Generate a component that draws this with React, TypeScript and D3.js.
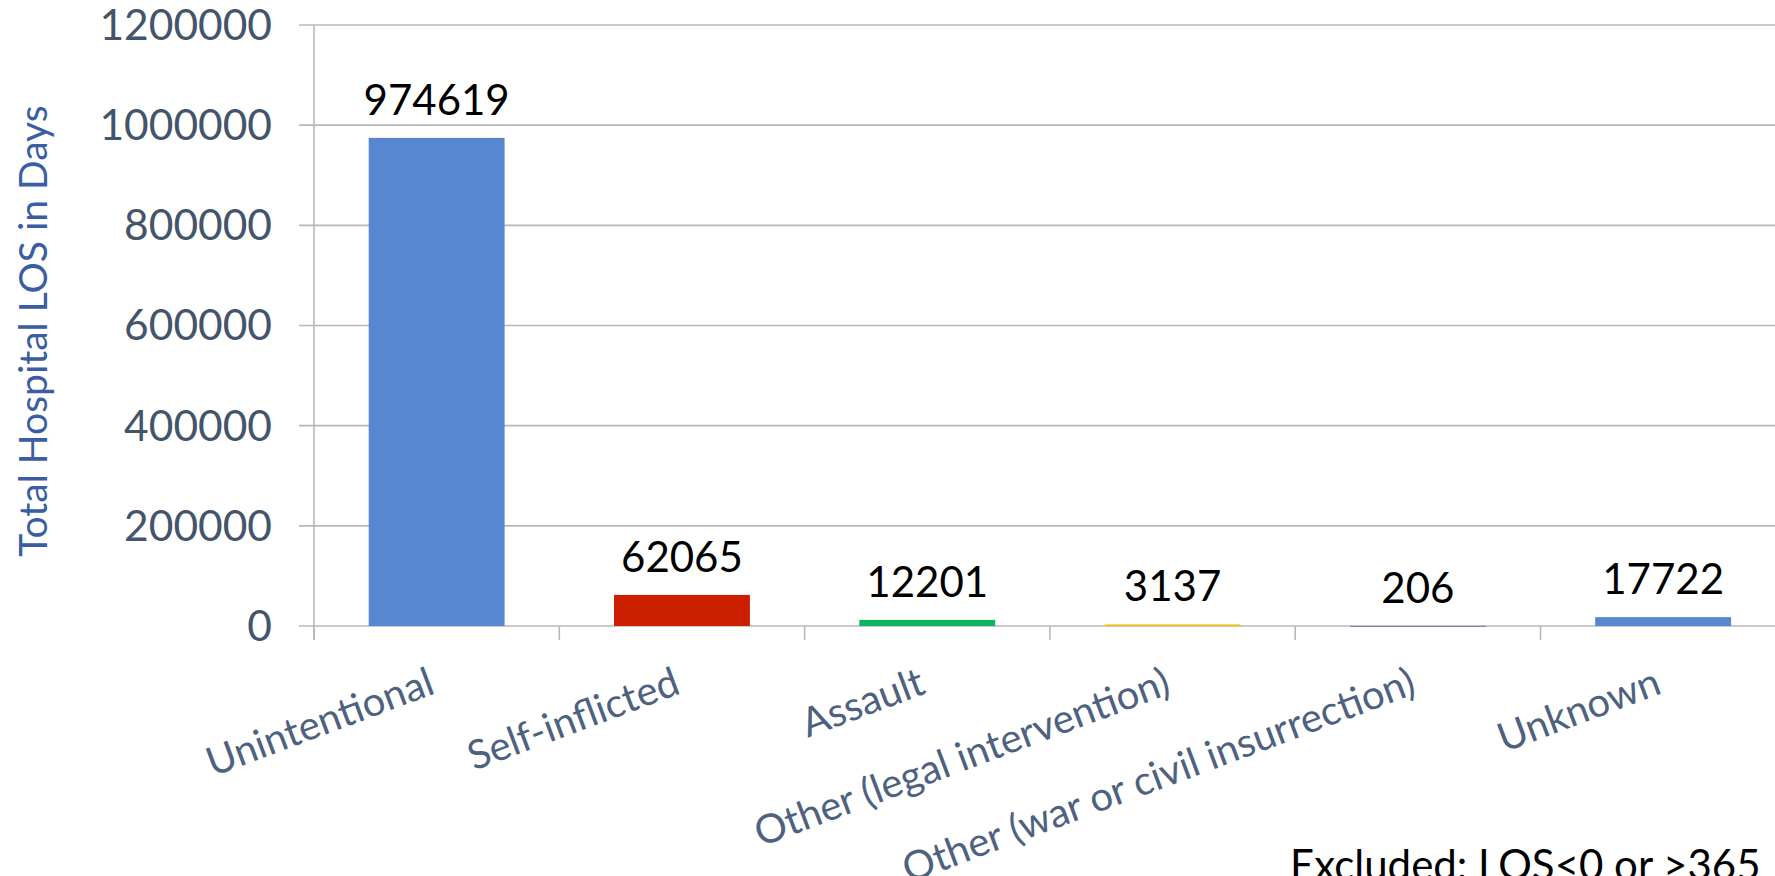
import React, { useEffect } from "react";
import * as d3 from "d3";

const categories = [
  "Unintentional",
  "Self-inflicted",
  "Assault",
  "Other (legal intervention)",
  "Other (war or civil insurrection)",
  "Unknown",
];
const values = [974619, 62065, 12201, 3137, 206, 17722];
const barColors = ["#5787D0", "#CC1F00", "#0FB55E", "#F2C10F", "#8E6FB0", "#5787D0"];
const yTicks = [0, 200000, 400000, 600000, 800000, 1000000, 1200000];
const yTitle = "Total Hospital LOS in Days";
const note = "Excluded: LOS<0 or >365";

const W = 1775;
const H = 876;
const FONT = "Lato, 'Open Sans', sans-serif";

export default function App() {
  useEffect(() => {
    document.body.style.margin = "0";
    document.body.style.overflow = "hidden";
  }, []);

  const x0 = 314;
  const step = 245.3;
  const x = d3
    .scaleBand<string>()
    .domain(categories)
    .range([x0, x0 + step * categories.length])
    .paddingInner(0)
    .paddingOuter(0);
  const y = d3.scaleLinear().domain([0, 1200000]).range([626, 25]);
  const bw = x.bandwidth();
  const barW = bw * 0.554;
  const barOff = (bw - barW) / 2;

  const boundaries = d3.range(categories.length + 1).map((i) => x0 + i * step);

  return (
    <svg width={W} height={H} style={{ display: "block", background: "#fff" }}>
      {/* gridlines */}
      {yTicks.map((t) => (
        <line
          key={"g" + t}
          x1={299}
          x2={W}
          y1={y(t)}
          y2={y(t)}
          stroke="#B8B8B8"
          strokeWidth={1.6}
        />
      ))}
      {/* y axis line */}
      <line x1={x0} x2={x0} y1={y(1200000)} y2={y(0) + 14} stroke="#B8B8B8" strokeWidth={1.6} />
      {/* category ticks */}
      {boundaries.map((b, i) => (
        <line key={"t" + i} x1={b} x2={b} y1={y(0)} y2={y(0) + 14} stroke="#B8B8B8" strokeWidth={1.6} />
      ))}
      {/* bars */}
      {categories.map((c, i) => (
        <rect
          key={"b" + c}
          x={(x(c) as number) + barOff}
          y={y(values[i])}
          width={barW}
          height={Math.max(y(0) - y(values[i]), 1)}
          fill={barColors[i]}
        />
      ))}
      {/* value labels */}
      {categories.map((c, i) => (
        <text
          key={"v" + c}
          x={(x(c) as number) + bw / 2}
          y={y(values[i]) - 23}
          textAnchor="middle"
          fontFamily={FONT}
          fontSize={42}
          fill="#000"
        >
          {values[i]}
        </text>
      ))}
      {/* y tick labels */}
      {yTicks.map((t) => (
        <text
          key={"yl" + t}
          x={272}
          y={y(t)}
          dy="0.35em"
          textAnchor="end"
          fontFamily={FONT}
          fontSize={42.5}
          fill="#44546A"
        >
          {t}
        </text>
      ))}
      {/* category labels */}
      {categories.map((c) => (
        <text
          key={"cl" + c}
          transform={`translate(${(x(c) as number) + bw / 2},${693}) rotate(-20.5)`}
          textAnchor="end"
          fontFamily={FONT}
          fontSize={40}
          fill="#4E6280"
        >
          {c}
        </text>
      ))}
      {/* y title */}
      <text
        transform={`translate(47,${331}) rotate(-90)`}
        textAnchor="middle"
        fontFamily={FONT}
        fontSize={39}
        fill="#3A5DA3"
      >
        {yTitle}
      </text>
      {/* note */}
      <text x={1290} y={880} fontFamily={FONT} fontSize={42} fill="#000">
        {note}
      </text>
    </svg>
  );
}
